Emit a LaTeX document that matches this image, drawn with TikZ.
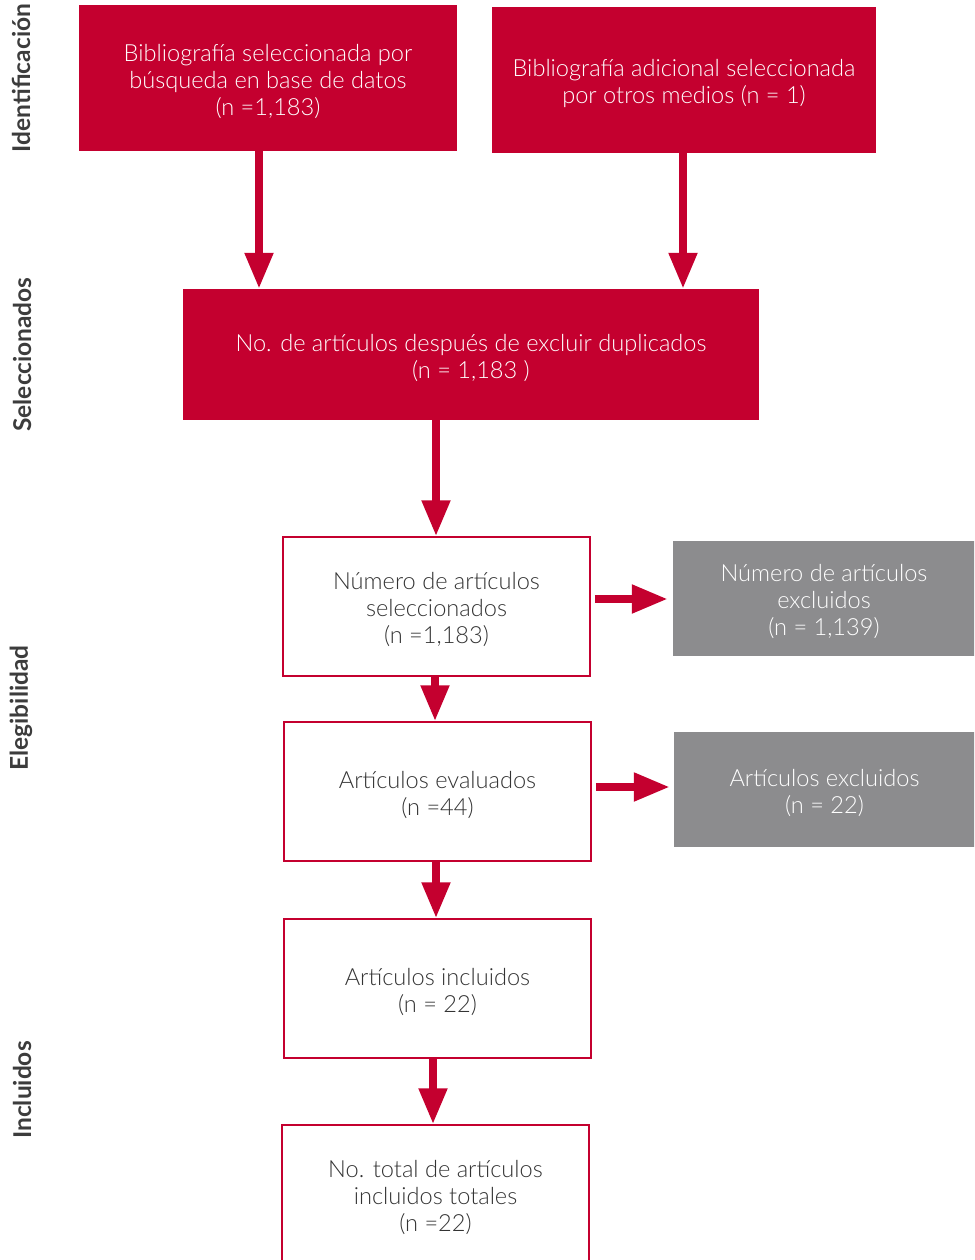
\documentclass[tikz,border=0pt]{standalone}
\usepackage{fontspec}
\setmainfont{Lato}[UprightFont=* Light]
\newfontfamily\labfont{Lato}[UprightFont=* Bold]
\usetikzlibrary{arrows.meta}
\definecolor{pred}{HTML}{C4002F}
\definecolor{pgray}{HTML}{8C8C8E}
\definecolor{ptext}{HTML}{333333}
\definecolor{plab}{HTML}{3C3C3C}
\tikzset{
  boxtext/.style={align=center, font=\fontsize{23.6}{27}\selectfont, inner sep=0pt},
  redbox/.style={fill=pred},
  graybox/.style={fill=pgray},
  whitebox/.style={draw=pred, line width=1.5pt},
  wtext/.style={boxtext, text=white},
  dtext/.style={boxtext, text=ptext},
  arr/.style={draw=pred, line width=8pt, -{Triangle[length=36pt, width=27pt]}},
  sidelab/.style={rotate=90, text=plab, font=\labfont\fontsize{24.5}{28}\selectfont, inner sep=0pt}
}
\begin{document}
\begin{tikzpicture}[x=1pt, y=-1pt]
\useasboundingbox (0,0) rectangle (974,1260);
\clip (0,0) rectangle (974,1260);
% red boxes
\node[redbox, minimum width=378pt, minimum height=146pt] (A) at (268,78) {};
\node[wtext] (At) at (268,81.5) {Bibliografía seleccionada por\\búsqueda en base de datos\\(n =1,183)};
\node[redbox, minimum width=384pt, minimum height=146pt] (B) at (684,80) {};
\node[wtext] (Bt) at (684,83.5) {Bibliografía adicional seleccionada\\por otros medios (n = 1)};
\node[redbox, minimum width=576pt, minimum height=131pt] (C) at (471,354.5) {};
\node[wtext] (Ct) at (471,357.5) {No. de artículos después de excluir duplicados\\(n = 1,183 )};
% white boxes
\node[whitebox, minimum width=307pt, minimum height=139pt] (D) at (436.5,606.5) {};
\node[dtext] (Dt) at (436.5,609) {Número de artículos\\seleccionados\\(n =1,183)};
\node[whitebox, minimum width=307pt, minimum height=139pt] (F) at (437.5,791.5) {};
\node[dtext] (Ft) at (437.5,795) {Artículos evaluados\\(n =44)};
\node[whitebox, minimum width=307pt, minimum height=139pt] (H) at (437.5,988.5) {};
\node[dtext] (Ht) at (437.5,992) {Artículos incluidos\\(n = 22)};
\node[whitebox, minimum width=307pt, minimum height=160pt] (I) at (435.5,1205) {};
\node[dtext] (It) at (435.5,1197.5) {No. total de artículos\\incluidos totales\\(n =22)};
% gray boxes
\node[graybox, minimum width=302pt, minimum height=115pt] (E) at (824,598.5) {};
\node[wtext] (Et) at (824,601.5) {Número de artículos\\excluidos\\(n = 1,139)};
\node[graybox, minimum width=301pt, minimum height=115pt] (G) at (824.5,789.5) {};
\node[wtext] (Gt) at (824.5,792.5) {Artículos excluidos\\(n = 22)};
% arrows
\draw[arr] ([xshift=-9pt]A.south) -- ([xshift=-9pt]A.south |- C.north);
\draw[arr] ([xshift=-1pt]B.south) -- ([xshift=-1pt]B.south |- C.north);
\draw[arr] ([xshift=-35pt]C.south) -- ([xshift=-35pt]C.south |- D.north);
\draw[arr] ([xshift=-1.5pt]D.south) -- ([xshift=-1.5pt]D.south |- F.north);
\draw[arr] ([xshift=-1.5pt]F.south) -- ([xshift=-1.5pt]F.south |- H.north);
\draw[arr] ([xshift=-4.5pt]H.south) -- ([xshift=-4.5pt]H.south |- I.north);
\draw[arr, shorten >=5pt] ([xshift=4pt, yshift=7.5pt]D.east) -- ([yshift=7.5pt]D.east -| E.west);
\draw[arr, shorten >=4pt] ([xshift=4pt, yshift=4.5pt]F.east) -- ([yshift=4.5pt]F.east -| G.west);
% side labels
\node[sidelab] (L1) at (21,78) {Identificación};
\node[sidelab] (L2) at (22,354.5) {Seleccionados};
\node[sidelab] (L3) at (21,708) {Elegibilidad};
\node[sidelab] (L4) at (22,1090) {Incluidos};
\end{tikzpicture}
\end{document}
